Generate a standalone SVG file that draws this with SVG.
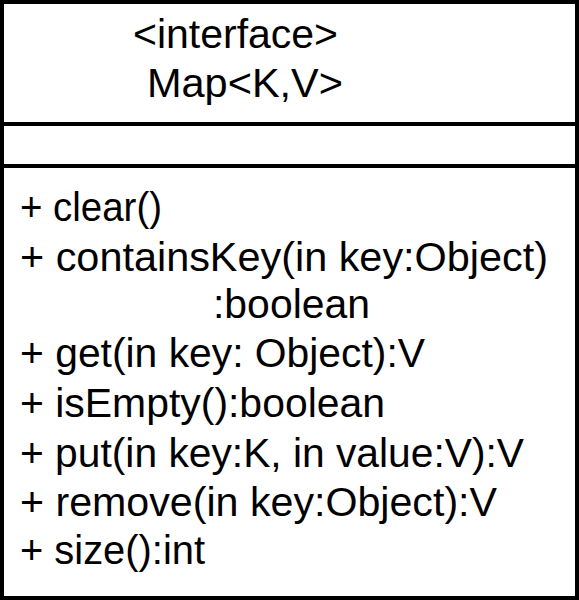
<svg xmlns="http://www.w3.org/2000/svg" width="579" height="600" viewBox="0 0 579 600">
<style>
.t{font-family:"Liberation Sans",Arial,sans-serif;font-size:40px;fill:#000}
.ln{stroke:#000;stroke-width:4;fill:none}
</style>
<rect width="579" height="600" fill="#fff"/>
<g id="class-Map">
<rect class="ln" x="2" y="2" width="575" height="596" fill="#fff"/>
<line class="ln" x1="2" y1="124" x2="577" y2="124"/>
<line class="ln" x1="2" y1="166" x2="577" y2="166"/>
<text class="t" x="133" y="48" textLength="205" lengthAdjust="spacingAndGlyphs">&lt;interface&gt;</text>
<text class="t" x="147" y="97" textLength="196" lengthAdjust="spacingAndGlyphs">Map&lt;K,V&gt;</text>
<text class="t" x="20" y="221" textLength="142" lengthAdjust="spacingAndGlyphs">+ clear()</text>
<text class="t" x="20" y="271" textLength="528" lengthAdjust="spacingAndGlyphs">+ containsKey(in key:Object)</text>
<text class="t" x="213" y="318" textLength="157" lengthAdjust="spacingAndGlyphs">:boolean</text>
<text class="t" x="20" y="367" textLength="405" lengthAdjust="spacingAndGlyphs">+ get(in key: Object):V</text>
<text class="t" x="20" y="417" textLength="365" lengthAdjust="spacingAndGlyphs">+ isEmpty():boolean</text>
<text class="t" x="20" y="467" textLength="504" lengthAdjust="spacingAndGlyphs">+ put(in key:K, in value:V):V</text>
<text class="t" x="20" y="516" textLength="477" lengthAdjust="spacingAndGlyphs">+ remove(in key:Object):V</text>
<text class="t" x="20" y="564" textLength="185" lengthAdjust="spacingAndGlyphs">+ size():int</text>
</g>
<g id="connectors"></g>
</svg>
